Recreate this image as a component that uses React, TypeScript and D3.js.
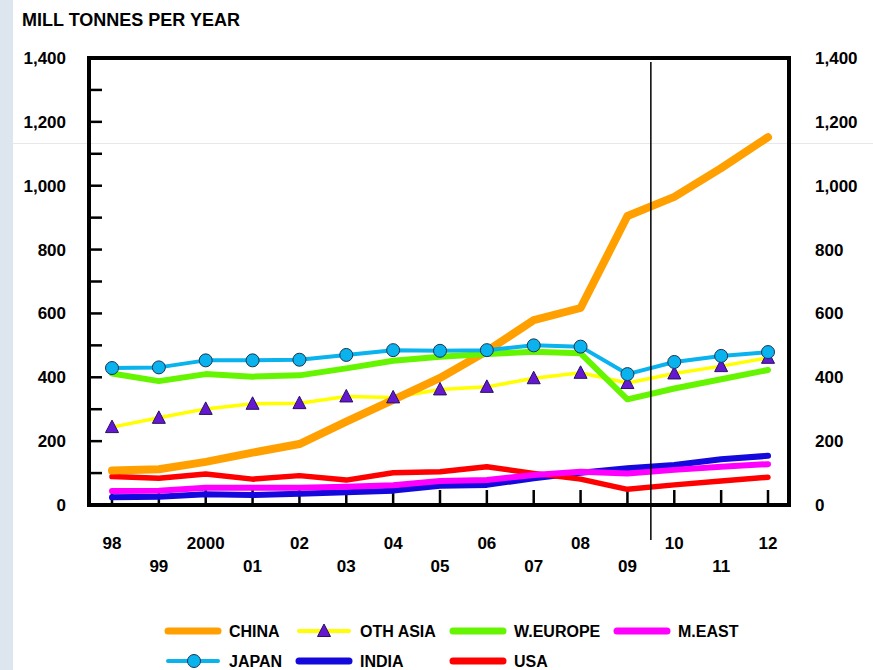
import React from 'react';
import * as d3 from 'd3';

const years = ['98', '99', '2000', '01', '02', '03', '04', '05', '06', '07', '08', '09', '10', '11', '12'];
const yTicks = [0, 200, 400, 600, 800, 1000, 1200, 1400];

const china = [108, 112, 135, 164, 191, 261, 329, 398, 482, 579, 617, 905, 965, 1055, 1152];
const othAsia = [244, 273, 301, 317, 319, 340, 337, 362, 370, 397, 414, 382, 412, 435, 461];
const wEurope = [412, 388, 410, 402, 406, 428, 452, 464, 473, 480, 475, 331, 365, 394, 423];
const mEast = [44, 45, 54, 54, 54, 57, 62, 75, 78, 94, 104, 99, 110, 120, 128];
const japan = [429, 431, 453, 453, 455, 470, 485, 483, 485, 500, 496, 410, 448, 467, 479];
const india = [24, 26, 34, 31, 35, 40, 45, 60, 63, 84, 101, 115, 125, 143, 154];
const usa = [89, 84, 97, 81, 92, 78, 101, 104, 120, 99, 81, 49, 63, 75, 87];

const font = 'Liberation Sans, Arial, sans-serif';

// draw order, bottom to top
const series = [
  { name: 'INDIA', data: india, color: '#1408dc', width: 6 },
  { name: 'USA', data: usa, color: '#ff0000', width: 5.5 },
  { name: 'M.EAST', data: mEast, color: '#ff00ff', width: 6 },
  { name: 'OTH ASIA', data: othAsia, color: '#ffff00', width: 3.5 },
  { name: 'CHINA', data: china, color: '#ffa000', width: 8 },
  { name: 'W.EUROPE', data: wEurope, color: '#66f500', width: 6 },
  { name: 'JAPAN', data: japan, color: '#0ab2ee', width: 4 },
];

const legendRows = [
  [
    { name: 'CHINA', color: '#ffa000', marker: '' },
    { name: 'OTH ASIA', color: '#ffff00', marker: 'tri' },
    { name: 'W.EUROPE', color: '#66f500', marker: '' },
    { name: 'M.EAST', color: '#ff00ff', marker: '' },
  ],
  [
    { name: 'JAPAN', color: '#0ab2ee', marker: 'circle' },
    { name: 'INDIA', color: '#1408dc', marker: '' },
    { name: 'USA', color: '#ff0000', marker: '' },
  ],
];
const legendX = [168, 299, 453, 617];

const triPath = (cx: number, cy: number) =>
  `M${cx},${cy - 8}L${cx + 6.5},${cy + 4.5}L${cx - 6.5},${cy + 4.5}Z`;

export default function App() {
  const left = 89, right = 789, top = 58, bottom = 505;

  const x = d3.scalePoint<string>().domain(years).range([112, 768]);
  const y = d3.scaleLinear().domain([0, 1400]).range([bottom, top]);
  const minor = d3.range(100, 1400, 100);

  const line = d3.line<number>()
    .x((d, i) => x(years[i]) as number)
    .y(d => y(d));

  const splitX = (x('09') as number + (x('10') as number)) / 2;

  return (
    <svg width={873} height={670} style={{ position: 'absolute', left: 0, top: 0, background: '#fff' }}>
      <rect x={0} y={0} width={13} height={670} fill="#dde6ee" />
      <line x1={13} x2={873} y1={143.5} y2={143.5} stroke="#e8e8e8" strokeWidth={1} />

      <text x={22} y={26} fontFamily={font} fontWeight="bold" fontSize={18}>MILL TONNES PER YEAR</text>

      {/* y tick labels both sides */}
      {yTicks.map(t => (
        <g key={t} fontFamily={font} fontWeight="bold" fontSize={17}>
          <text x={66} y={y(t)} dy="0.35em" textAnchor="end">{d3.format(',')(t)}</text>
          <text x={815} y={y(t)} dy="0.35em">{d3.format(',')(t)}</text>
        </g>
      ))}

      {/* inner ticks */}
      {minor.map(t => (
        <line key={t} x1={left} x2={left + 13} y1={y(t)} y2={y(t)} stroke="#000" strokeWidth={2.5} />
      ))}
      {years.map(yr => (
        <line key={yr} x1={x(yr)} x2={x(yr)} y1={bottom} y2={bottom - 15} stroke="#000" strokeWidth={2.5} />
      ))}

      {/* x labels, staggered */}
      {years.map((yr, i) => (
        <text key={yr} x={x(yr)} y={i % 2 === 0 ? 543 : 566} dy="0.35em" textAnchor="middle"
          fontFamily={font} fontWeight="bold" fontSize={17}>{yr}</text>
      ))}

      {/* series lines */}
      {series.map(s => (
        <path key={s.name} d={line(s.data) || ''} fill="none" stroke={s.color} strokeWidth={s.width}
          strokeLinejoin="round" strokeLinecap="round" />
      ))}

      {/* markers */}
      {othAsia.map((v, i) => (
        <path key={'t' + i} d={triPath(x(years[i]) as number, y(v) + 1)} fill="#6418d2" stroke="#2a1060" strokeWidth={1} />
      ))}
      {japan.map((v, i) => (
        <circle key={'c' + i} cx={x(years[i])} cy={y(v)} r={6.5} fill="#0ab2ee" stroke="#1a3550" strokeWidth={1} />
      ))}

      {/* forecast divider */}
      <line x1={splitX} x2={splitX} y1={62} y2={540} stroke="#000" strokeWidth={1.5} />

      {/* frame */}
      <rect x={left} y={top} width={right - left} height={bottom - top} fill="none" stroke="#000" strokeWidth={4} />

      {/* legend */}
      {legendRows.map((row, r) => (
        <g key={r} transform={`translate(0,${631 + r * 30})`}>
          {row.map((item, c) => {
            const lx = legendX[c];
            return (
              <g key={item.name}>
                <line x1={lx} x2={lx + 50} y1={0} y2={0} stroke={item.color}
                  strokeWidth={item.marker ? 4 : 7} strokeLinecap="round" />
                {item.marker === 'tri' && <path d={triPath(lx + 25, 1)} fill="#6418d2" stroke="#2a1060" strokeWidth={1} />}
                {item.marker === 'circle' && <circle cx={lx + 26} cy={0} r={6.5} fill="#0ab2ee" stroke="#1a3550" strokeWidth={1} />}
                <text x={lx + 61} y={0} dy="0.35em" fontFamily={font} fontWeight="bold" fontSize={16}>{item.name}</text>
              </g>
            );
          })}
        </g>
      ))}
    </svg>
  );
}
